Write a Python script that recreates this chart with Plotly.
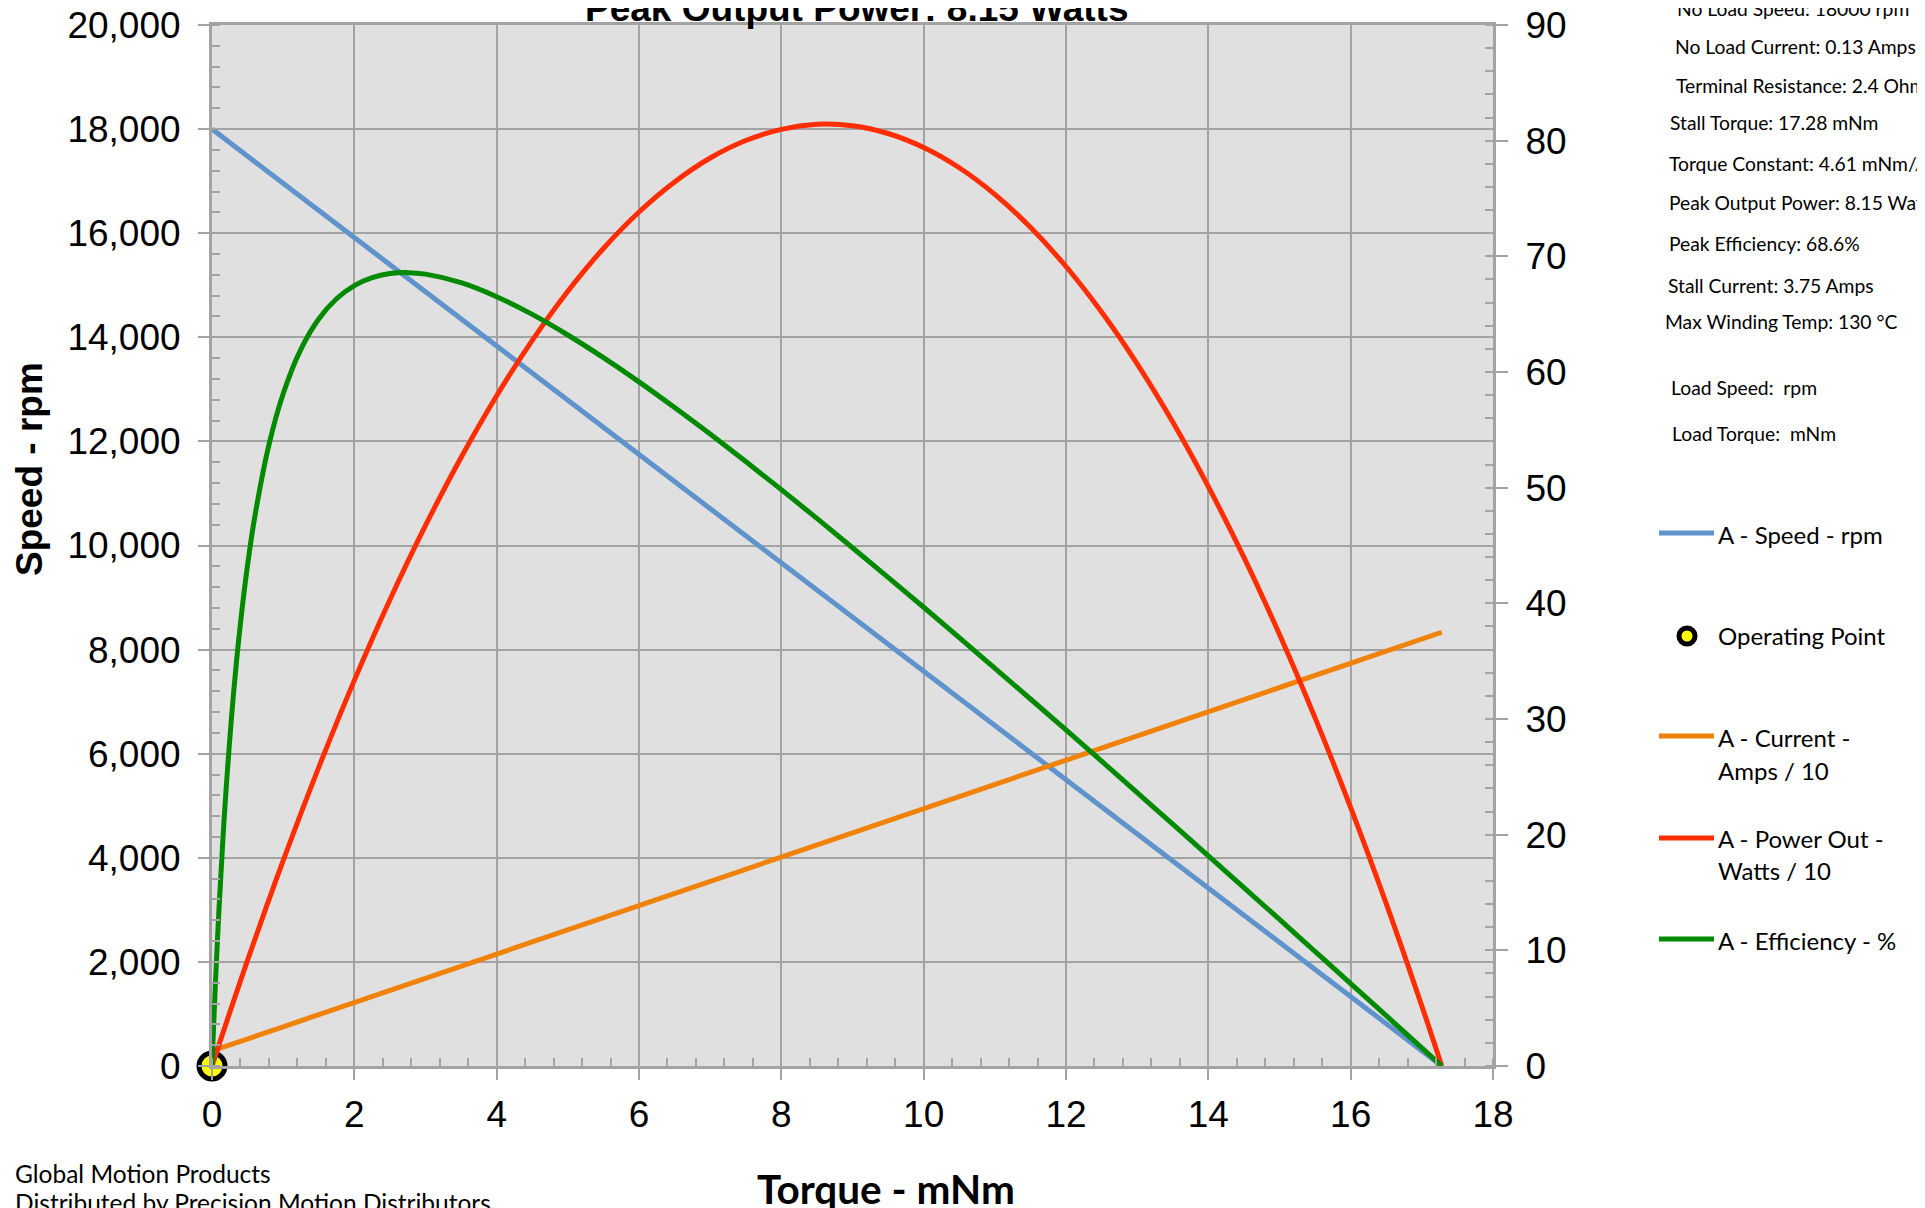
import plotly.graph_objects as go

# ---------------- data ----------------
torque = [0, 0.05, 0.1, 0.25, 0.5, 0.75, 1, 1.5, 2, 2.5, 3, 3.5, 4, 4.5, 5, 5.5, 6,
          6.5, 7, 7.5, 8, 8.5, 9, 9.5, 10, 10.5, 11, 11.5, 12, 12.5, 13, 13.5, 14,
          14.5, 15, 15.5, 16, 16.5, 17, 17.28]
speed_rpm = [18000, 17948, 17896, 17740, 17479, 17219, 16958, 16438, 15917, 15396,
             14875, 14354, 13833, 13313, 12792, 12271, 11750, 11229, 10708, 10188,
             9667, 9146, 8625, 8104, 7583, 7063, 6542, 6021, 5500, 4979, 4458, 3938,
             3417, 2896, 2375, 1854, 1333, 813, 292, 0]
current_x10 = [1.30, 1.40, 1.51, 1.82, 2.35, 2.87, 3.39, 4.44, 5.49, 6.54, 7.58, 8.63,
               9.68, 10.73, 11.77, 12.82, 13.87, 14.92, 15.96, 17.01, 18.06, 19.11,
               20.15, 21.20, 22.25, 23.30, 24.34, 25.39, 26.44, 27.49, 28.53, 29.58,
               30.63, 31.68, 32.72, 33.77, 34.82, 35.87, 36.91, 37.50]
power_x10 = [0, 0.94, 1.87, 4.64, 9.15, 13.52, 17.76, 25.82, 33.34, 40.31, 46.73, 52.61,
             57.95, 62.73, 66.98, 70.68, 73.83, 76.43, 78.50, 80.01, 80.98, 81.41, 81.29,
             80.62, 79.41, 77.66, 75.36, 72.51, 69.12, 65.18, 60.70, 55.67, 50.09, 43.97,
             37.31, 30.10, 22.34, 14.04, 5.19, 0]
eff_torque = [0, 0.02, 0.05, 0.1, 0.15, 0.2, 0.3, 0.4, 0.5, 0.6, 0.8, 1.0, 1.25, 1.5,
              1.75, 2.0, 2.25, 2.5, 2.75, 3.0, 3.5, 4, 4.5, 5, 5.5, 6, 6.5, 7, 7.5, 8,
              8.5, 9, 9.5, 10, 10.5, 11, 11.5, 12, 12.5, 13, 13.5, 14, 14.5, 15, 15.5,
              16, 16.5, 17, 17.28]
efficiency = [0, 3.12, 7.43, 13.79, 19.29, 24.09, 32.02, 38.28, 43.32, 47.44, 53.70,
              58.12, 61.98, 64.58, 66.33, 67.47, 68.16, 68.51, 68.59, 68.46, 67.72,
              66.51, 64.98, 63.20, 61.24, 59.15, 56.93, 54.63, 52.26, 49.83, 47.34,
              44.81, 42.25, 39.66, 37.04, 34.39, 31.73, 29.05, 26.35, 23.63, 20.91,
              18.17, 15.42, 12.67, 9.90, 7.13, 4.35, 1.56, 0]
op_torque = [0]
op_speed = [0]

x_ticks = [0, 2, 4, 6, 8, 10, 12, 14, 16, 18]
title_text = "Peak Output Power: 8.15 Watts"
info_lines = ["No Load Speed: 18000 rpm", "No Load Current: 0.13 Amps",
              "Terminal Resistance: 2.4 Ohms", "Stall Torque: 17.28 mNm",
              "Torque Constant: 4.61 mNm/A", "Peak Output Power: 8.15 Watts",
              "Peak Efficiency: 68.6%", "Stall Current: 3.75 Amps",
              "Max Winding Temp: 130 °C", "Load Speed:  rpm", "Load Torque:  mNm"]
footer_lines = ["Global Motion Products", "Distributed by Precision Motion Distributors"]

BLUE = "#5f93cb"
ORANGE = "#f08208"
RED = "#ff2d00"
GREEN = "#008a00"
GRID = "#a3a3a3"

# ---------------- layout geometry (page pixels; page has an 8px body margin) ----------------
OFF = 8
W, H = 1925 - OFF, 1208 - OFF
L, R, T, B = 212, 1493, 25, 1066


def px(xp):
    return (xp - L) / (R - L)


def py(yp):
    return (B - yp) / (B - T)


fig = go.Figure()

fig.add_trace(go.Scatter(x=op_torque, y=op_speed, mode="markers", name="Operating Point",
                         marker=dict(size=26, color="#ffff00", line=dict(color="black", width=5)),
                         cliponaxis=False, showlegend=False, yaxis="y"))
fig.add_trace(go.Scatter(x=torque, y=speed_rpm, mode="lines", name="A - Speed - rpm",
                         line=dict(color=BLUE, width=5), showlegend=False, yaxis="y"))
fig.add_trace(go.Scatter(x=torque, y=current_x10, mode="lines", name="A - Current - Amps / 10",
                         line=dict(color=ORANGE, width=5), showlegend=False, yaxis="y2"))
fig.add_trace(go.Scatter(x=torque, y=power_x10, mode="lines", name="A - Power Out - Watts / 10",
                         line=dict(color=RED, width=5, shape="spline", smoothing=1.0),
                         showlegend=False, yaxis="y2"))
fig.add_trace(go.Scatter(x=eff_torque, y=efficiency, mode="lines", name="A - Efficiency - %",
                         line=dict(color=GREEN, width=5, shape="spline", smoothing=1.0),
                         showlegend=False, yaxis="y2"))

tickfont = dict(family="Liberation Sans, Arial", size=37, color="black")

fig.update_layout(
    width=W, height=H, autosize=False,
    margin=dict(l=L - OFF, r=1925 - R, t=T - OFF, b=1208 - B, pad=0, autoexpand=False),
    paper_bgcolor="white", plot_bgcolor="#e0e0e0",
    showlegend=False,
    xaxis=dict(range=[0, 18], tickvals=x_ticks, showgrid=True, gridcolor=GRID, gridwidth=2,
               showline=True, linecolor=GRID, linewidth=3, mirror=True, zeroline=False,
               ticks="outside", ticklen=11, tickwidth=2, tickcolor=GRID,
               minor=dict(dtick=0.4, ticks="inside", ticklen=8, tickwidth=2, tickcolor=GRID,
                          showgrid=False),
               tickfont=tickfont, ticklabelstandoff=3, ticklabeloverflow="allow",
               automargin=False),
    yaxis=dict(range=[0, 20000], dtick=2000, tickformat=",d", showgrid=True, gridcolor=GRID,
               gridwidth=2, showline=True, linecolor=GRID, linewidth=3, zeroline=False,
               ticks="outside", ticklen=11, tickwidth=2, tickcolor=GRID,
               minor=dict(dtick=400, ticks="inside", ticklen=8, tickwidth=2, tickcolor=GRID,
                          showgrid=False),
               tickfont=tickfont, ticklabelstandoff=10, ticklabeloverflow="allow",
               automargin=False),
    yaxis2=dict(range=[0, 90], dtick=10, overlaying="y", side="right", showgrid=False,
                showline=True, linecolor=GRID, linewidth=3, zeroline=False,
                ticks="outside", ticklen=12, tickwidth=2, tickcolor=GRID,
                minor=dict(dtick=2, ticks="inside", ticklen=8, tickwidth=2, tickcolor=GRID,
                           showgrid=False),
                tickfont=tickfont, ticklabelstandoff=10, ticklabeloverflow="allow",
                automargin=False),
)

annotations = []
# title
annotations.append(dict(text="<b>" + title_text + "</b>", x=px(856), y=py(8.5), xref="paper",
                        yref="paper", xanchor="center", yanchor="middle", showarrow=False,
                        font=dict(family="Liberation Sans, Arial", size=37, color="black")))
# axis titles
annotations.append(dict(text="<b>Speed - rpm</b>", x=px(29), y=py(469), xref="paper",
                        yref="paper", xanchor="center", yanchor="middle", showarrow=False,
                        textangle=-90,
                        font=dict(family="Liberation Sans, Arial", size=37, color="black")))
annotations.append(dict(text="<b>Torque - mNm</b>", x=px(886), y=py(1188.5), xref="paper",
                        yref="paper", xanchor="center", yanchor="middle", showarrow=False,
                        font=dict(family="Lato", size=40.5, color="black")))
# info panel
info_pos = [(1677, 9), (1675, 47), (1676, 86), (1670, 123), (1669, 164), (1669, 203),
            (1669, 244), (1668, 286), (1665, 322), (1671, 388), (1672, 434)]
for txt, (xx, yy) in zip(info_lines, info_pos):
    annotations.append(dict(text=txt, x=px(xx - 2), y=py(yy - 0.5), xref="paper", yref="paper",
                            xanchor="left", yanchor="middle", showarrow=False,
                            font=dict(family="Lato", size=19.3, color="black")))
# legend
leg_font = dict(family="Lato", size=24, color="black")
leg_items = [("A - Speed - rpm", 536), ("Operating Point", 637), ("A - Current -", 739),
             ("Amps / 10", 772), ("A - Power Out -", 840), ("Watts / 10", 872),
             ("A - Efficiency - %", 942)]
for txt, yy in leg_items:
    annotations.append(dict(text=txt, x=px(1716), y=py(yy - 1.5), xref="paper", yref="paper",
                            xanchor="left", yanchor="middle", showarrow=False, font=leg_font))
# footer
for txt, yy in zip(footer_lines, [1173, 1202]):
    annotations.append(dict(text=txt, x=px(13), y=py(yy), xref="paper", yref="paper",
                            xanchor="left", yanchor="middle", showarrow=False,
                            font=dict(family="Lato", size=24.5, color="black")))
fig.update_layout(annotations=annotations)

shapes = []
for col, yy in [(BLUE, 533), (ORANGE, 736), (RED, 838), (GREEN, 939)]:
    shapes.append(dict(type="line", xref="paper", yref="paper", x0=px(1659), x1=px(1714),
                       y0=py(yy), y1=py(yy), line=dict(color=col, width=5)))
shapes.append(dict(type="circle", xref="paper", yref="paper", xsizemode="pixel",
                   ysizemode="pixel", xanchor=px(1687), yanchor=py(636), x0=-8, x1=8, y0=-8,
                   y1=8, fillcolor="#ffff00", line=dict(color="black", width=5)))
shapes.append(dict(type="line", xref="paper", yref="paper", x0=px(1923), x1=px(1923),
                   y0=py(0), y1=py(1208), line=dict(color="#c8c8c8", width=2)))
fig.update_layout(shapes=shapes)

fig.write_html("out.html")
